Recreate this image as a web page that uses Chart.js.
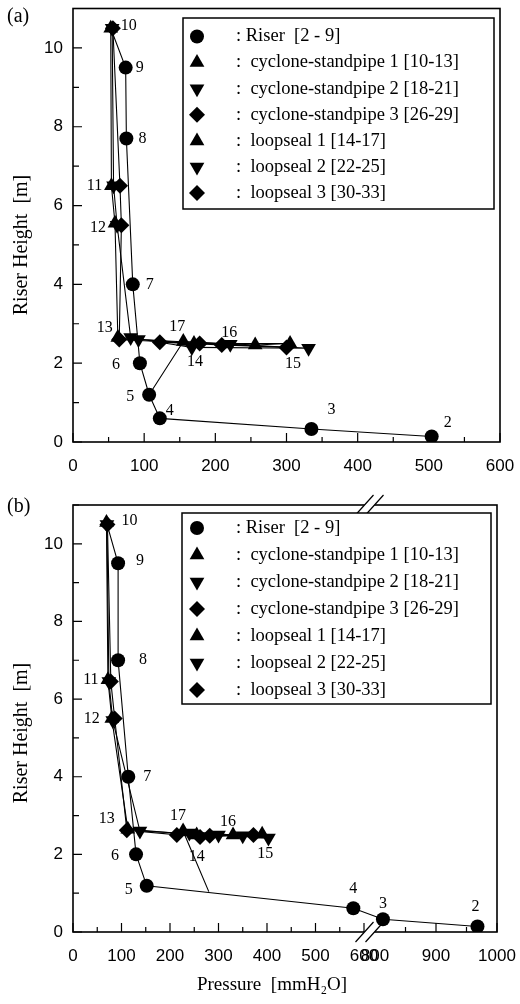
<!DOCTYPE html>
<html>
<head>
<meta charset="utf-8">
<title>Riser pressure profile</title>
<script src="https://cdn.jsdelivr.net/npm/chart.js@4.4.1/dist/chart.umd.min.js"></script>
<style>
  body { margin: 0; background: #fff; }
  #wrap { position: relative; width: 520px; height: 1004px; }
  canvas { position: absolute; left: 0; }
</style>
</head>
<body>
<div id="wrap">
  <canvas id="chartA" width="520" height="490" style="top:0"></canvas>
  <canvas id="chartB" width="520" height="514" style="top:490px"></canvas>
</div>
<script>
// axis ticks
const xMajorA = [0, 100, 200, 300, 400, 500, 600];
const xMajorB = [0, 100, 200, 300, 400, 500, 600, 800, 900, 1000];
const yMajor = [0, 2, 4, 6, 8, 10];

// series names, in legend order
const seriesNames = [
  ': Riser  [2 - 9]',
  ':  cyclone-standpipe 1 [10-13]',
  ':  cyclone-standpipe 2 [18-21]',
  ':  cyclone-standpipe 3 [26-29]',
  ':  loopseal 1 [14-17]',
  ':  loopseal 2 [22-25]',
  ':  loopseal 3 [30-33]'
];
const firstNo = [2, 10, 18, 26, 14, 22, 30];

// (a) pressure [mmH2O] / height [m]
const riserPA = [504, 335, 122, 107, 94, 84, 75, 74];
const riserHA = [0.14, 0.33, 0.6, 1.2, 2.0, 4.0, 7.7, 9.5];
const cyc1PA = [53, 54, 59, 63];
const cyc1HA = [10.5, 6.5, 5.55, 2.65];
const cyc2PA = [55, 57, 62, 81];
const cyc2HA = [10.5, 6.5, 5.5, 2.65];
const cyc3PA = [56, 66, 68, 65];
const cyc3HA = [10.5, 6.5, 5.5, 2.6];
const loop1PA = [170, 305, 256, 155];
const loop1HA = [2.5, 2.5, 2.46, 2.55];
const loop2PA = [167, 331, 221, 92];
const loop2HA = [2.4, 2.38, 2.48, 2.6];
const loop3PA = [178, 300, 209, 122];
const loop3HA = [2.5, 2.4, 2.46, 2.53];
const backPA = [107];   // loopseal 1 back into the riser
const backHA = [1.2];

// (b)
const riserPB = [968, 813, 578, 152, 130, 114, 93, 93];
const riserHB = [0.14, 0.33, 0.61, 1.19, 2.0, 4.0, 7.0, 9.5];
const cyc1PB = [69, 72, 80, 113];
const cyc1HB = [10.55, 6.5, 5.5, 2.65];
const cyc2PB = [70, 74, 82, 138];
const cyc2HB = [10.5, 6.45, 5.45, 2.6];
const cyc3PB = [71, 78, 86, 111];
const cyc3HB = [10.5, 6.45, 5.5, 2.62];
const loop1PB = [255, 390, 330, 227];
const loop1HB = [2.5, 2.52, 2.5, 2.6];
const loop2PB = [300, 403, 350, 240];
const loop2HB = [2.5, 2.42, 2.48, 2.55];
const loop3PB = [262, 372, 282, 214];
const loop3HB = [2.45, 2.5, 2.48, 2.5];
const backPB = [280];
const backHB = [1.04];

const pointStyles = ['circle', 'triangle', 'triangle', 'rectRot', 'triangle', 'triangle', 'rectRot'];
const pointRots = [0, 0, 180, 0, 0, 180, 0];
const pointRads = [7, 8.5, 8.5, 8, 8.5, 8.5, 8];
const serif = "'Liberation Serif', 'Times New Roman', serif";
const sans = "'Liberation Sans', Arial, sans-serif";

// (b) has a broken x axis: 600 -> 800 squeezed, right part a bit wider
const mapB = p => p < 700 ? p : 622.7 + (p - 800) * 1.2577;

const panels = [
  {
    id: 'chartA', tag: '(a)', map: p => p, xMax: 600, xMajor: xMajorA,
    pad: { top: 8, right: 20 }, bottomPx: 442, yTitleY: 245,
    series: [[riserPA, riserHA], [cyc1PA, cyc1HA], [cyc2PA, cyc2HA], [cyc3PA, cyc3HA],
             [loop1PA, loop1HA], [loop2PA, loop2HA], [loop3PA, loop3HA]],
    back: [backPA, backHA],
    legend: { box: [183, 18, 494, 209], markX: 197, textX: 236, y0: 36.5, gap: 26.1 },
    numOff: { 2: [16, -14], 3: [20, -19], 4: [10, -8], 5: [-19, 2], 6: [-24, 2], 7: [17, 0],
              8: [16, 0], 9: [14, 0], 10: [18, -2], 11: [-17, 0], 12: [-17, 5], 13: [-13, -10],
              14: [1, 18], 15: [3, 20], 16: [-26, -12], 17: [-6, -15] },
    xTitle: null
  },
  {
    id: 'chartB', tag: '(b)', map: mapB, xMax: mapB(1000), xMajor: xMajorB,
    pad: { top: 15, right: 23 }, bottomPx: 442, broken: [600, 800], yTitleY: 243,
    series: [[riserPB, riserHB], [cyc1PB, cyc1HB], [cyc2PB, cyc2HB], [cyc3PB, cyc3HB],
             [loop1PB, loop1HB], [loop2PB, loop2HB], [loop3PB, loop3HB]],
    back: [backPB, backHB],
    legend: { box: [182, 23, 491, 214], markX: 197, textX: 236, y0: 38, gap: 27 },
    numOff: { 2: [-2, -20], 3: [0, -15], 4: [0, -20], 5: [-18, 4], 6: [-21, 1], 7: [19, 0],
              8: [25, 0], 9: [22, -2], 10: [23, -2], 11: [-17, 0], 12: [-20, 0], 13: [-21, -10],
              14: [0, 22], 15: [3, 20], 16: [-5, -13], 17: [-5, -15] },
    xTitle: 'Pressure  [mmH\u2082O]', xTitleX: 272, xTitleY: 495
  }
];

function pts(ps, hs, map) {
  return ps.map((p, i) => ({ x: map(p), y: hs[i] }));
}

// inward tick marks, frame and the axis break
const frameTicks = {
  id: 'frameTicks',
  beforeDatasetsDraw(chart, args, opts) {
    const { ctx, chartArea: a, scales: { x, y } } = chart;
    ctx.save();
    ctx.strokeStyle = '#000';
    ctx.lineWidth = 1.2;
    ctx.beginPath();
    x.ticks.forEach(t => {
      const px = x.getPixelForValue(t.value);
      ctx.moveTo(px, a.bottom);
      ctx.lineTo(px, a.bottom - (t.label !== '' ? 9 : 5));
    });
    y.ticks.forEach(t => {
      const py = y.getPixelForValue(t.value);
      ctx.moveTo(a.left, py);
      ctx.lineTo(a.left + (t.label !== '' ? 9 : 6), py);
    });
    ctx.stroke();
    ctx.lineWidth = 1.6;
    ctx.strokeRect(a.left, a.top, a.width, a.height);
    if (opts.broken) {
      const pm = opts.map;
      const cx = (x.getPixelForValue(pm(opts.broken[0])) + x.getPixelForValue(pm(opts.broken[1]))) / 2;
      [a.top, a.bottom].forEach(yy => {
        ctx.fillStyle = '#fff';
        ctx.beginPath();
        ctx.moveTo(cx - 14, yy + 10); ctx.lineTo(cx + 4, yy - 10);
        ctx.lineTo(cx + 14, yy - 10); ctx.lineTo(cx - 4, yy + 10);
        ctx.closePath();
        ctx.fill();
        ctx.lineWidth = 1.2;
        ctx.beginPath();
        ctx.moveTo(cx - 14, yy + 10); ctx.lineTo(cx + 4, yy - 10);
        ctx.moveTo(cx - 4, yy + 10); ctx.lineTo(cx + 14, yy - 10);
        ctx.stroke();
      });
    }
    ctx.restore();
  }
};

// point numbers 2..17
const pointNumbers = {
  id: 'pointNumbers',
  afterDatasetsDraw(chart, args, opts) {
    const ctx = chart.ctx;
    ctx.save();
    ctx.fillStyle = '#000';
    ctx.font = '16px ' + serif;
    ctx.textAlign = 'center';
    ctx.textBaseline = 'middle';
    [0, 1, 4].forEach(di => {
      chart.getDatasetMeta(di).data.forEach((el, i) => {
        const no = firstNo[di] + i;
        const off = opts.offsets[no] || [12, 0];
        ctx.fillText(String(no), el.x + off[0], el.y + off[1]);
      });
    });
    ctx.restore();
  }
};

// boxed legend inside the plot, panel tag and axis titles
const boxLegend = {
  id: 'boxLegend',
  afterDraw(chart, args, opts) {
    const ctx = chart.ctx;
    const L = opts.legend;
    const [x0, y0, x1, y1] = L.box;
    ctx.save();
    ctx.fillStyle = '#fff';
    ctx.fillRect(x0, y0, x1 - x0, y1 - y0);
    ctx.strokeStyle = '#000';
    ctx.lineWidth = 1.5;
    ctx.strokeRect(x0, y0, x1 - x0, y1 - y0);
    ctx.fillStyle = '#000';
    ctx.font = '18.5px ' + serif;
    ctx.textBaseline = 'middle';
    ctx.textAlign = 'left';
    for (let i = 0; i < 7; i++) {
      const ds = chart.data.datasets[i];
      const yy = L.y0 + i * L.gap;
      Chart.helpers.drawPoint(ctx, {
        pointStyle: ds.pointStyle, rotation: ds.rotation, radius: ds.pointRadius, borderWidth: 0
      }, L.markX, yy);
      ctx.fillText(ds.label, L.textX, yy);
    }
    ctx.font = '20px ' + serif;
    ctx.fillText(opts.tag, 7, 17);

    ctx.font = '20px ' + serif;
    ctx.textAlign = 'center';
    ctx.save();
    ctx.translate(22, opts.yTitleY);
    ctx.rotate(-Math.PI / 2);
    ctx.fillText('Riser Height  [m]', 0, 0);
    ctx.restore();
    if (opts.xTitle) {
      ctx.font = '19px ' + serif;
      ctx.fillText(opts.xTitle, opts.xTitleX, opts.xTitleY);
    }
    ctx.restore();
  }
};

panels.forEach(pn => {
  const cv = document.getElementById(pn.id);
  const H = cv.height;

  const markers = pn.series.map((s, i) => ({
    label: seriesNames[i],
    data: pts(s[0], s[1], pn.map),
    showLine: false,
    pointStyle: pointStyles[i],
    rotation: pointRots[i],
    pointRadius: pointRads[i],
    pointBackgroundColor: '#000',
    pointBorderColor: '#000',
    pointBorderWidth: 0
  }));

  // connecting lines: riser up to the cyclone, then standpipe -> loopseal
  const lineDs = d => ({ data: d, showLine: true, pointRadius: 0, borderColor: '#000', borderWidth: 1.1, fill: false });
  const s = pn.series;
  const lines = [
    lineDs(pts(s[0][0].concat(s[1][0][0]), s[0][1].concat(s[1][1][0]), pn.map)),
    lineDs(pts(s[1][0].concat(s[4][0], pn.back[0]), s[1][1].concat(s[4][1], pn.back[1]), pn.map)),
    lineDs(pts(s[2][0].concat(s[5][0]), s[2][1].concat(s[5][1]), pn.map)),
    lineDs(pts(s[3][0].concat(s[6][0]), s[3][1].concat(s[6][1]), pn.map))
  ];

  const xRaw = [];
  pn.xMajor.forEach((v, i) => {
    xRaw.push(v);
    if (pn.xMajor[i + 1] === v + 100) xRaw.push(v + 50);
  });

  new Chart(cv, {
    type: 'scatter',
    data: { datasets: markers.concat(lines) },
    options: {
      responsive: false,
      animation: false,
      layout: { padding: { top: pn.pad.top, right: pn.pad.right, left: 0, bottom: 0 } },
      plugins: {
        legend: { display: false },
        tooltip: { enabled: false },
        frameTicks: { broken: pn.broken, map: pn.map },
        pointNumbers: { offsets: pn.numOff },
        boxLegend: { legend: pn.legend, tag: pn.tag, yTitleY: pn.yTitleY,
                     xTitle: pn.xTitle, xTitleX: pn.xTitleX, xTitleY: pn.xTitleY }
      },
      scales: {
        x: {
          type: 'linear', min: 0, max: pn.xMax,
          grid: { display: false, drawTicks: false },
          border: { display: false },
          afterBuildTicks: sc => { sc.ticks = xRaw.map(r => ({ value: pn.map(r), raw: r })); },
          afterFit: sc => {
            sc.height = H - pn.bottomPx;
            sc.paddingLeft = 0; sc.paddingRight = 0;
          },
          ticks: {
            autoSkip: false, maxRotation: 0, padding: 14, color: '#000',
            font: { family: sans, size: 17 },
            callback: (v, i, ticks) => pn.xMajor.includes(ticks[i].raw) ? String(ticks[i].raw) : ''
          }
        },
        y: {
          type: 'linear', min: 0, max: 11,
          grid: { display: false, drawTicks: false },
          border: { display: false },
          afterBuildTicks: sc => { sc.ticks = [0, 1, 2, 3, 4, 5, 6, 7, 8, 9, 10, 11].map(v => ({ value: v })); },
          afterFit: sc => {
            sc.width = 73;
            sc.paddingTop = 0; sc.paddingBottom = 0;
          },
          ticks: {
            autoSkip: false, padding: 10, color: '#000',
            font: { family: sans, size: 17 },
            callback: v => yMajor.includes(v) ? String(v) : ''
          }
        }
      }
    },
    plugins: [frameTicks, pointNumbers, boxLegend]
  });
});
</script>
</body>
</html>
